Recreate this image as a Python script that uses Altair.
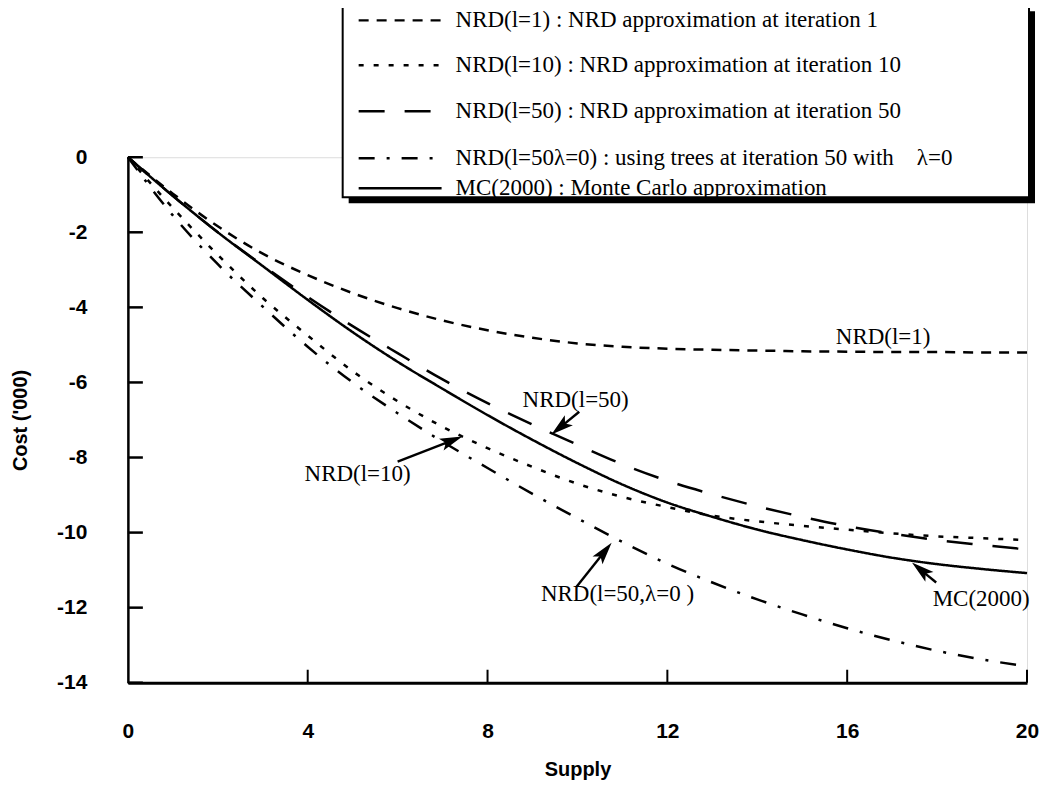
import math
import altair as alt
import pandas as pd

# ---------------- data ----------------
supply = list(range(21))
nrd_l1 = [0, -0.97, -1.84, -2.57, -3.14, -3.62, -4.02, -4.35, -4.61, -4.81, -4.96,
          -5.05, -5.10, -5.13, -5.15, -5.17, -5.18, -5.19, -5.19, -5.20, -5.20]
nrd_l10 = [0, -1.35, -2.60, -3.75, -4.75, -5.70, -6.50, -7.18, -7.75, -8.25, -8.70,
           -9.05, -9.32, -9.55, -9.70, -9.82, -9.92, -10.02, -10.10, -10.15, -10.20]
nrd_l50 = [0, -1.03, -2.00, -2.88, -3.72, -4.50, -5.22, -5.92, -6.55, -7.12, -7.66,
           -8.18, -8.62, -8.98, -9.30, -9.58, -9.83, -10.03, -10.20, -10.33, -10.45]
nrd_l50_lam0 = [0, -1.55, -2.85, -3.98, -5.05, -6.00, -6.82, -7.58, -8.28, -8.97, -9.62,
                -10.25, -10.83, -11.33, -11.78, -12.18, -12.55, -12.87, -13.15, -13.38, -13.56]
mc2000 = [0, -1.03, -2.00, -2.90, -3.80, -4.66, -5.45, -6.17, -6.87, -7.53, -8.15,
          -8.72, -9.20, -9.58, -9.92, -10.20, -10.45, -10.67, -10.84, -10.97, -11.08]

series_names = ["NRD(l=1)", "NRD(l=10)", "NRD(l=50)", "NRD(l=50,λ=0)", "MC(2000)"]
legend_texts = [
    "NRD(l=1) : NRD approximation at iteration 1",
    "NRD(l=10) : NRD approximation at iteration 10",
    "NRD(l=50) : NRD approximation at iteration 50",
    "NRD(l=50λ=0) : using trees at iteration 50 with\u00a0\u00a0\u00a0\u00a0λ=0",
    "MC(2000) : Monte Carlo approximation",
]
x_tick_values = [0, 4, 8, 12, 16, 20]
y_tick_values = [0, -2, -4, -6, -8, -10, -12, -14]

# annotation labels (data coordinates)
ann_labels = ["NRD(l=1)", "NRD(l=50)", "NRD(l=10)", "NRD(l=50,λ=0 )", "MC(2000)"]
ann_x = [16.8, 9.96, 5.11, 10.89, 18.98]
ann_y = [-4.78, -6.46, -8.43, -11.63, -11.78]
# arrows: tail -> tip (data coordinates)
arrow_tail_x = [10.04, 6.00, 9.98, 17.98]
arrow_tail_y = [-6.78, -8.11, -11.44, -11.33]
arrow_tip_x = [9.42, 7.44, 10.76, 17.44]
arrow_tip_y = [-7.39, -7.44, -10.27, -10.80]

# ---------------- styling / layout ----------------
SANS = "Liberation Sans"
SERIF = "Liberation Serif"
W, H = 900, 526
PX_X, PX_Y = W / 20.0, H / 14.0
dashes = [[10, 8], [5, 10], [26, 20], [16, 12, 3, 12], [1, 0]]

xscale = alt.Scale(domain=[0, 20], nice=False, zero=False)
yscale = alt.Scale(domain=[-14, 0], nice=False, zero=False)
xaxis = alt.Axis(values=x_tick_values, title="Supply", ticks=False, tickSize=0, grid=False,
                 domainColor="black", domainWidth=3, labelFont=SANS, labelFontSize=21,
                 labelFontWeight="bold", labelColor="black", labelPadding=38,
                 titleFont=SANS, titleFontSize=20, titleFontWeight="bold",
                 titleColor="black", titlePadding=18, labelFlush=False)
yaxis = alt.Axis(values=y_tick_values, title="Cost ('000)", ticks=False, tickSize=0, grid=False,
                 domainColor="black", domainWidth=2.5, labelFont=SANS, labelFontSize=21,
                 labelFontWeight="bold", labelColor="black", labelPadding=41,
                 labelExpr="datum.value == 0 ? '0' : '-' + abs(datum.value)",
                 titleFont=SANS, titleFontSize=20, titleFontWeight="bold",
                 titleColor="black", titlePadding=26, labelFlush=False)


def X(f="supply"):
    return alt.X(f"{f}:Q", scale=xscale, axis=xaxis)


def Y(f="cost"):
    return alt.Y(f"{f}:Q", scale=yscale, axis=yaxis)


# long table of the curves
all_series = [nrd_l1, nrd_l10, nrd_l50, nrd_l50_lam0, mc2000]
rows = []
for name, vals in zip(series_names, all_series):
    for s, c in zip(supply, vals):
        rows.append({"series": name, "supply": s, "cost": c})
df = pd.DataFrame(rows)

lines = alt.Chart(df).mark_line(color="black", strokeWidth=2.5, interpolate="monotone").encode(
    x=X(), y=Y(),
    strokeDash=alt.StrokeDash("series:N", scale=alt.Scale(domain=series_names, range=dashes),
                              legend=None),
)

# inward ticks
yt = pd.DataFrame({"cost": y_tick_values})
yticks = alt.Chart(yt).mark_rule(color="black", strokeWidth=2.5).encode(
    y=Y(), x=alt.value(0), x2=alt.value(15))
xt = pd.DataFrame({"supply": x_tick_values[1:]})
xticks = alt.Chart(xt).mark_rule(color="black", strokeWidth=2).encode(
    x=X(), y=alt.value(H), y2=alt.value(H - 13))

# annotations
ann = pd.DataFrame({"label": ann_labels, "supply": ann_x, "cost": ann_y})
ann_text = alt.Chart(ann).mark_text(font=SERIF, fontSize=23, color="black",
                                    baseline="middle", align="center").encode(
    x=X(), y=Y(), text="label:N")

HEAD_SIZE = 800
R = math.sqrt(HEAD_SIZE) / 2
arr_rows = []
for tx, ty, px, py in zip(arrow_tail_x, arrow_tail_y, arrow_tip_x, arrow_tip_y):
    dxp = (px - tx) * PX_X
    dyp = -(py - ty) * PX_Y
    L = math.hypot(dxp, dyp)
    ux, uy = dxp / L, dyp / L
    ang = math.degrees(math.atan2(ux, -uy)) % 360
    hx = px - R * ux / PX_X
    hy = py + R * uy / PX_Y
    arr_rows.append({"supply": tx, "cost": ty, "supply2": hx, "cost2": hy,
                     "hx": hx, "hy": hy, "ang": ang})
arr = pd.DataFrame(arr_rows)
arrow_lines = alt.Chart(arr).mark_rule(color="black", strokeWidth=2.4).encode(
    x=X(), y=Y(), x2="supply2:Q", y2="cost2:Q")
arrow_heads = alt.Chart(arr).mark_point(
    shape="M0,-1L0.45,0.6L0,0.25L-0.45,0.6Z", filled=True, color="black",
    size=HEAD_SIZE, opacity=1, strokeWidth=0).encode(
    x=alt.X("hx:Q", scale=xscale, axis=xaxis),
    y=alt.Y("hy:Q", scale=yscale, axis=yaxis),
    angle=alt.Angle("ang:Q", scale=None))

# legend box (layout in pixels relative to the plot area)
one = pd.DataFrame({"k": [0]})
BX0, BX1, BY0, BY1 = 215, 902, -152, 40
shadow = alt.Chart(one).mark_rect(color="black").encode(
    x=alt.value(BX0 + 6), x2=alt.value(BX1 + 6), y=alt.value(BY0 + 6), y2=alt.value(BY1 + 6))
box = alt.Chart(one).mark_rect(fill="white", stroke="black", strokeWidth=2).encode(
    x=alt.value(BX0), x2=alt.value(BX1), y=alt.value(BY0), y2=alt.value(BY1))
row_y = [-137, -92, -46, 1, 31]
leg_layers = []
for i, (txt, d) in enumerate(zip(legend_texts, dashes)):
    leg_layers.append(alt.Chart(one).mark_rule(color="black", strokeWidth=2.4, strokeDash=d).encode(
        x=alt.value(231), x2=alt.value(314), y=alt.value(row_y[i])))
    leg_layers.append(alt.Chart(one).mark_text(font=SERIF, fontSize=23, color="black",
                                               align="left", baseline="middle").encode(
        x=alt.value(328), y=alt.value(row_y[i]), text=alt.value(txt)))

chart = alt.layer(lines, yticks, xticks, arrow_lines, arrow_heads, ann_text,
                  shadow, box, *leg_layers).properties(
    width=W, height=H,
    padding={"left": 120, "top": 149, "right": 12, "bottom": 104},
    autosize=alt.AutoSizeParams(type="none"),
).configure_view(stroke=None).configure(background="white")

chart.save("out.html", embed_options={"renderer": "svg", "actions": False})
